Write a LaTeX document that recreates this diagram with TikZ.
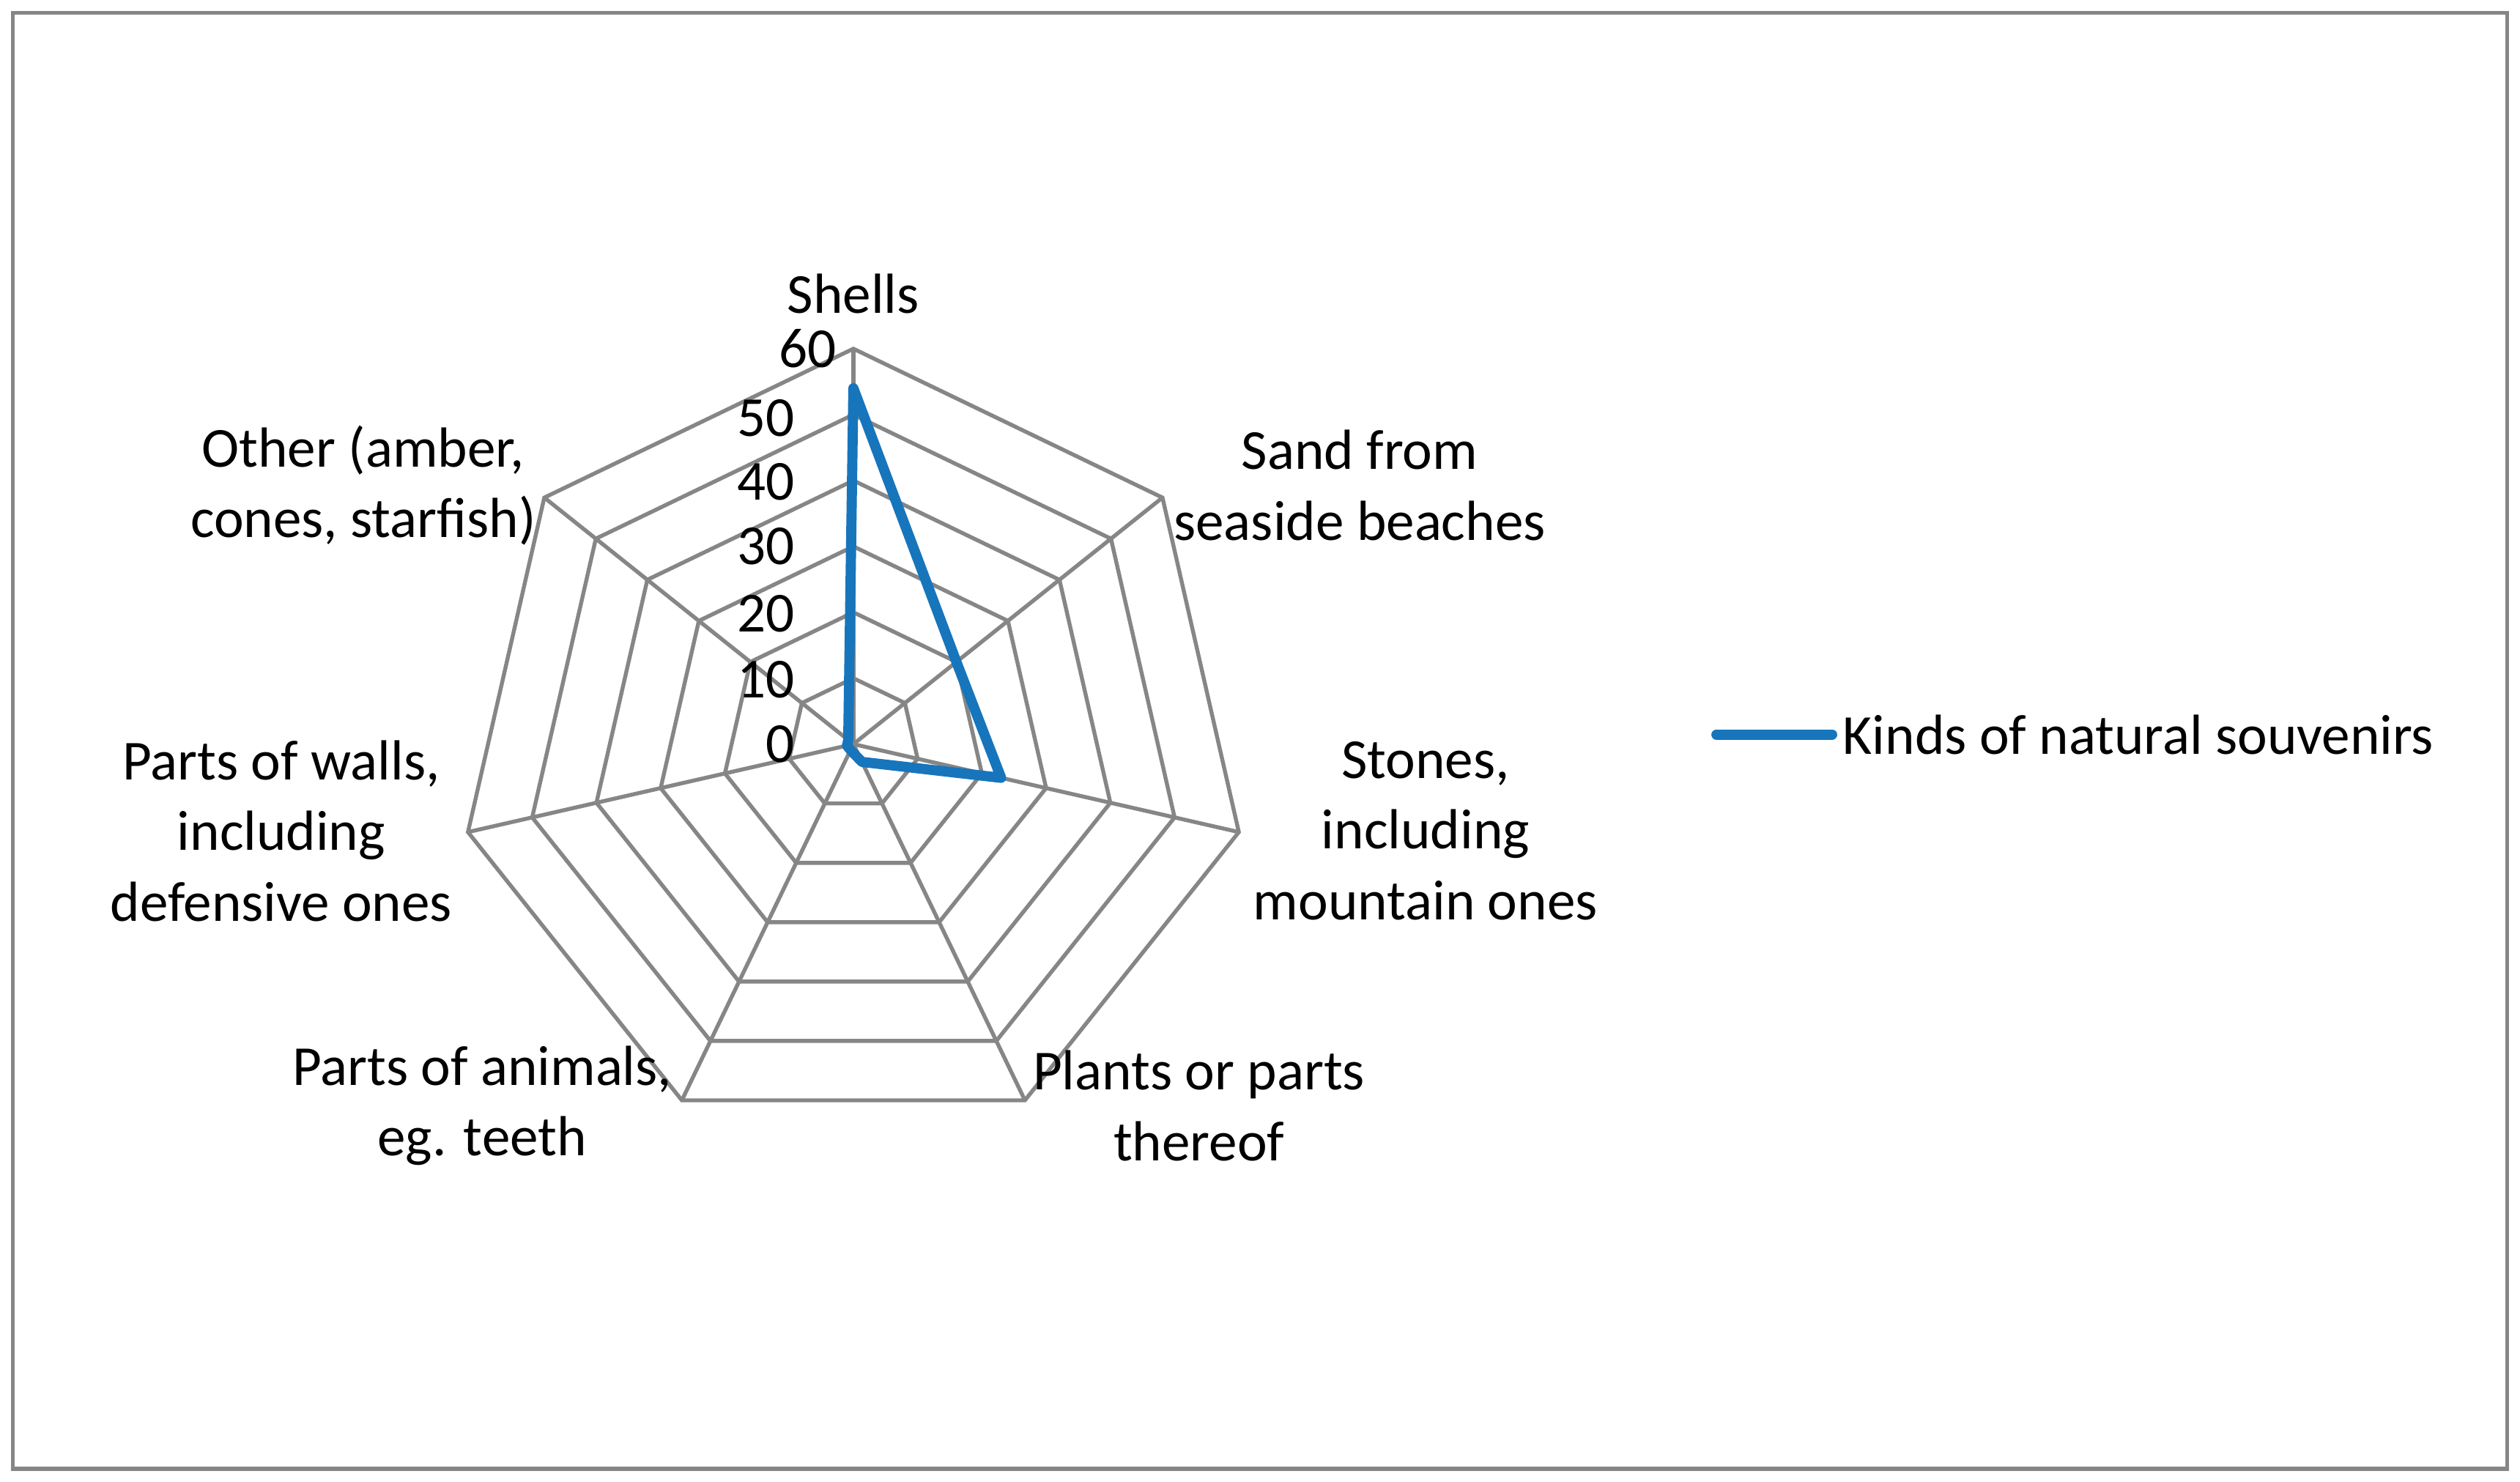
\documentclass[tikz,border=0pt]{standalone}
\usepackage{fontspec}
\setmainfont{Carlito}
\begin{document}
\begin{tikzpicture}[x=0.01cm,y=-0.01cm,
  grid/.style={draw={rgb,255:red,134;green,134;blue,134},line width=0.7pt},
  lbl/.style={align=center,font=\fontsize{10}{12.5}\selectfont,inner sep=0pt},
  tick/.style={font=\fontsize{10}{11}\selectfont,inner sep=0pt,anchor=east},
  series/.style={draw={rgb,255:red,23;green,117;blue,188},line width=1.8pt,line join=round,line cap=round}]
\useasboundingbox (0,0) rectangle (1568,922);
\draw[grid] (8,8) rectangle (1560,914);
\coordinate (c) at (531,463);
\foreach \k in {1,...,6}{
  \draw[grid] plot[samples at={0,...,6}] ({531+41*\k*cos(90-\x*360/7)},{463-41*\k*sin(90-\x*360/7)}) -- cycle;
}
\foreach \i in {0,...,6}{
  \coordinate (v\i) at ({531+246*cos(90-\i*360/7)},{463-246*sin(90-\i*360/7)});
  \draw[grid] (c) -- (v\i);
}
\foreach \i/\v in {0/54,1/20,2/23,3/3,4/1,5/1,6/1}{
  \coordinate (d\i) at ({531+4.1*\v*cos(90-\i*360/7)},{463-4.1*\v*sin(90-\i*360/7)});
}
\draw[series] (d0) -- (d1) -- (d2) -- (d3) -- (d4) -- (d5) -- (d6) -- cycle;
\node[tick] (t60) at (521,217) {60};
\node[tick] (t50) at (495,260) {50};
\node[tick] (t40) at (495,300) {40};
\node[tick] (t30) at (495,340) {30};
\node[tick] (t20) at (495,382) {20};
\node[tick] (t10) at (495,423) {10};
\node[tick] (t0) at (495,463) {0};
\node[lbl] (l0) at (531,183) {Shells};
\node[lbl] (l1) at (846,302) {Sand from\\seaside beaches};
\node[lbl] (l2) at (887,517) {Stones,\\including\\mountain ones};
\node[lbl] (l3) at (746,688) {Plants or parts\\thereof};
\node[lbl] (l4) at (300,688) {Parts of animals,\\eg. teeth};
\node[lbl] (l5) at (175,517) {Parts of walls,\\including\\defensive ones};
\node[lbl] (l6) at (226,302) {Other (amber,\\cones, starfish)};
\coordinate (la) at (1068,457);
\coordinate (lb) at (1140,457);
\draw[series] (la) -- (lb);
\node[lbl,anchor=west] (leg) at (1146,457) {Kinds of natural souvenirs};
\end{tikzpicture}
\end{document}
